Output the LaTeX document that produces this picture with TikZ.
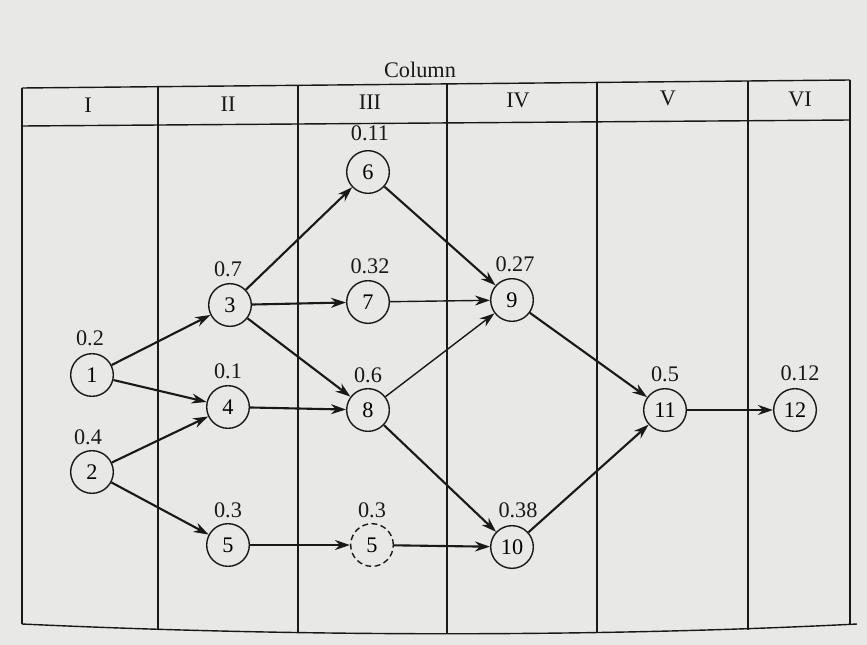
\documentclass[tikz,border=0pt]{standalone}
\usepackage{fontspec}
\setmainfont{Liberation Serif}
\usetikzlibrary{arrows.meta}
\definecolor{paper}{RGB}{232,232,230}
\definecolor{ink}{RGB}{25,25,25}
\begin{document}
\begin{tikzpicture}[x=0.03cm,y=-0.03cm,
  state/.style={circle, draw=ink, line width=1.2pt, minimum size=1.28cm, inner sep=0pt, font=\fontsize{19}{22}\selectfont},
  ghost/.style={state, dashed, dash pattern=on 5pt off 3pt},
  prob/.style={font=\fontsize{19}{22}\selectfont, text=ink},
  head/.style={font=\fontsize{19}{22}\selectfont, text=ink},
  edge/.style={draw=ink, line width=1.8pt, -{Stealth[length=0.45cm,width=0.3cm]}},
  thin edge/.style={edge, line width=1.2pt},
  grid/.style={draw=ink, line width=1.2pt}]
\fill[paper] (0,0) rectangle (867,645);
\useasboundingbox (0,0) rectangle (867,645);

% table
\draw[grid] (22,88) -- (850,80);
\draw[grid] (22,126) -- (850,120);
\draw[grid] (22,624) .. controls (300,637) and (600,637) .. (857,624);
\foreach \x/\yt/\yb in {22/88/624, 158/87/630, 298/85/633, 447/84/634, 597/82/633, 748/81/630, 850/80/624}
  \draw[grid] (\x,\yt) -- (\x,\yb);

\node[head] (col) at (420,70) {Column};
\node[head] (h1) at (88,105) {I};
\node[head] (h2) at (228,104) {II};
\node[head] (h3) at (370,102) {III};
\node[head] (h4) at (518,100) {IV};
\node[head] (h5) at (668,98) {V};
\node[head] (h6) at (800,99) {VI};

% nodes
\node[state] (n1) at (92,375) {1};
\node[state] (n2) at (92,472) {2};
\node[state] (n3) at (230,305) {3};
\node[state] (n4) at (228,407) {4};
\node[state] (n5) at (228,545) {5};
\node[state] (n6) at (368,172) {6};
\node[state] (n7) at (368,302) {7};
\node[state] (n8) at (368,410) {8};
\node[ghost] (n5b) at (372,545) {5};
\node[state] (n9) at (512,300) {9};
\node[state] (n10) at (512,547) {10};
\node[state] (n11) at (665,410) {11};
\node[state] (n12) at (795,410) {12};

% probabilities
\node[prob] (p1) at (90,338) {0.2};
\node[prob] (p2) at (88,437) {0.4};
\node[prob] (p3) at (228,269) {0.7};
\node[prob] (p4) at (228,371) {0.1};
\node[prob] (p5) at (228,510) {0.3};
\node[prob] (p6) at (370,133) {0.11};
\node[prob] (p7) at (370,266) {0.32};
\node[prob] (p8) at (368,375) {0.6};
\node[prob] (p5b) at (372,510) {0.3};
\node[prob] (p9) at (515,264) {0.27};
\node[prob] (p10) at (518,510) {0.38};
\node[prob] (p11) at (665,374) {0.5};
\node[prob] (p12) at (800,373) {0.12};

% edges
\draw[edge] (n1) -- (n3);
\draw[edge] (n1) -- (n4);
\draw[edge] (n2) -- (n4);
\draw[edge] (n2) -- (n5);
\draw[edge] (n3) -- (n6);
\draw[edge] (n3) -- (n7);
\draw[edge] (n3) -- (n8);
\draw[edge] (n4) -- (n8);
\draw[edge] (n5) -- (n5b);
\draw[edge] (n5b) -- (n10);
\draw[edge] (n6) -- (n9);
\draw[thin edge] (n7) -- (n9);
\draw[thin edge] (n8) -- (n9);
\draw[edge] (n8) -- (n10);
\draw[edge] (n9) -- (n11);
\draw[edge] (n10) -- (n11);
\draw[edge] (n11) -- (n12);
\end{tikzpicture}
\end{document}
